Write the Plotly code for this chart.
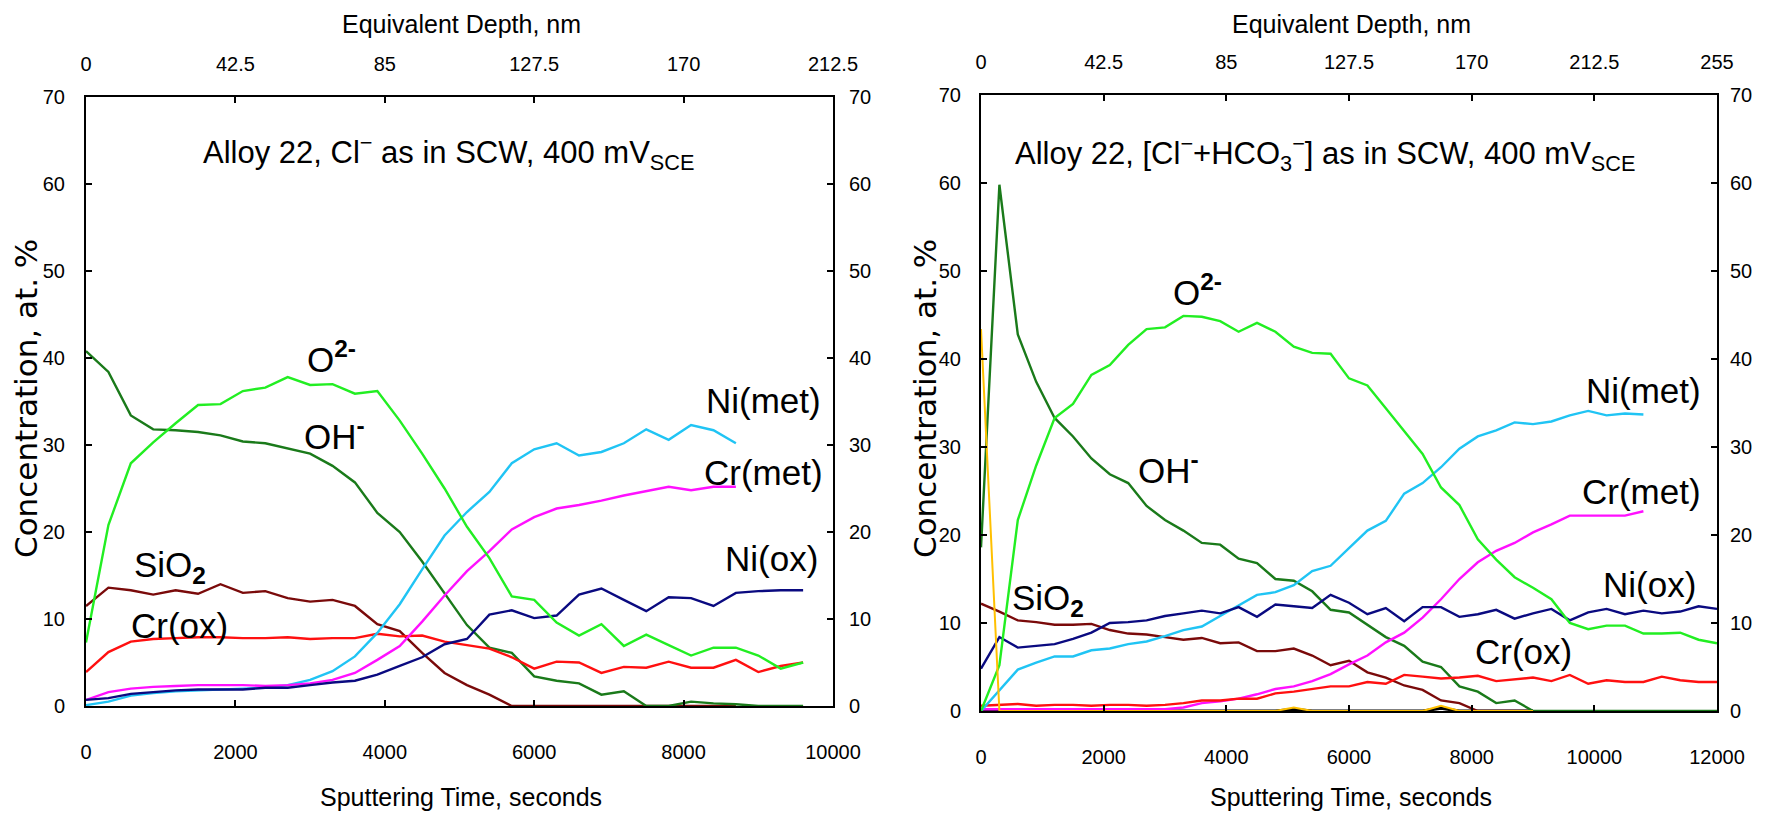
import plotly.graph_objects as go

# ---------------- data ----------------
t_left = list(range(0, 9601, 300))
t_right = list(range(0, 12001, 300))

L_O2 = [7.3, 20.8, 27.9, 30.3, 32.5, 34.6, 34.7, 36.2, 36.6, 37.8, 36.9, 37.0, 35.9, 36.2, 32.8, 29.0,
        25.0, 20.6, 17.0, 12.6, 12.2, 9.6, 8.1, 9.4, 6.9, 8.2, 7.0, 5.8, 6.7, 6.7, 5.8, 4.3, 5.0]
L_OH = [40.8, 38.4, 33.4, 31.8, 31.7, 31.5, 31.1, 30.4, 30.2, 29.6, 29.0, 27.6, 25.7, 22.2, 20.0, 16.6,
        13.0, 9.3, 6.7, 6.1, 3.4, 2.9, 2.6, 1.3, 1.7, 0.0, 0.0, 0.5, 0.3, 0.2, 0.0, 0.0, 0.0]
L_SiO2 = [11.5, 13.6, 13.3, 12.8, 13.3, 12.9, 14.0, 13.0, 13.2, 12.4, 12.0, 12.2, 11.5, 9.4, 8.6, 6.1,
          3.8, 2.4, 1.3, 0.0, 0.0, 0.0, 0.0, 0.0, 0.0, 0.0, 0.0, 0.0, 0.0, 0.0, None, None, None]
L_Crox = [3.9, 6.2, 7.4, 7.7, 7.8, 7.9, 7.9, 7.8, 7.8, 7.9, 7.7, 7.8, 7.8, 8.3, 8.0, 8.1,
          7.4, 7.0, 6.6, 5.6, 4.3, 5.1, 5.0, 3.8, 4.5, 4.4, 5.1, 4.4, 4.4, 5.3, 3.9, 4.6, 5.0]
L_Nimet = [0.1, 0.5, 1.2, 1.5, 1.7, 1.8, 1.9, 2.0, 2.1, 2.4, 3.0, 4.0, 5.7, 8.4, 11.7, 15.7,
           19.6, 22.3, 24.6, 27.9, 29.5, 30.2, 28.8, 29.2, 30.2, 31.8, 30.6, 32.3, 31.7, 30.2, None, None, None]
L_Crmet = [0.7, 1.6, 2.0, 2.2, 2.3, 2.4, 2.4, 2.4, 2.3, 2.4, 2.6, 3.0, 3.8, 5.3, 6.9, 9.7,
           12.7, 15.5, 17.8, 20.3, 21.7, 22.7, 23.1, 23.6, 24.2, 24.7, 25.2, 24.8, 25.2, 25.2, None, None, None]
L_Niox = [0.7, 0.9, 1.4, 1.6, 1.8, 1.9, 1.9, 1.9, 2.1, 2.1, 2.4, 2.7, 2.9, 3.6, 4.6, 5.6,
          7.1, 7.7, 10.5, 11.0, 10.1, 10.4, 12.8, 13.5, 12.2, 10.9, 12.5, 12.4, 11.5, 13.0, 13.2, 13.3, 13.3]

R_O2 = [0.0, 5.2, 21.7, 27.9, 33.3, 34.9, 38.2, 39.3, 41.6, 43.4, 43.6, 44.9, 44.8, 44.3, 43.1, 44.1,
        43.1, 41.4, 40.7, 40.6, 37.8, 37.0, 34.4, 31.8, 29.2, 25.4, 23.4, 19.5, 17.2, 15.2, 14.0, 12.7,
        10.0, 9.3, 9.7, 9.7, 8.8, 8.8, 8.9, 8.1, 7.7]
R_OH = [18.6, 59.8, 42.8, 37.4, 33.3, 31.2, 28.7, 26.9, 25.9, 23.3, 21.7, 20.5, 19.1, 18.9, 17.3, 16.8,
        15.0, 14.8, 13.6, 11.5, 11.2, 9.8, 8.4, 7.4, 5.6, 5.0, 2.8, 2.2, 0.9, 1.2, 0.0, 0.0,
        0.0, 0.0, 0.0, 0.0, 0.0, 0.0, 0.0, 0.0, 0.0]
R_SiO2 = [12.2, 11.3, 10.3, 10.1, 9.8, 9.8, 9.9, 9.2, 8.8, 8.7, 8.4, 8.1, 8.3, 7.7, 7.8, 6.8,
          6.8, 7.1, 6.3, 5.2, 5.7, 4.4, 3.8, 2.9, 2.4, 1.2, 0.9, 0.0, 0.0, 0.0, 0.0, None,
          None, None, None, None, None, None, None, None, None]
R_Niox = [4.8, 8.4, 7.2, 7.4, 7.6, 8.2, 8.9, 10.0, 10.1, 10.3, 10.8, 11.1, 11.4, 11.1, 11.8, 10.7,
          12.1, 11.9, 11.7, 13.2, 12.3, 11.0, 11.7, 10.2, 11.8, 11.8, 10.7, 11.0, 11.5, 10.5, 11.1, 11.6,
          10.3, 11.2, 11.6, 11.0, 11.4, 11.1, 11.3, 11.9, 11.6]
R_Nimet = [0.0, 2.4, 4.7, 5.5, 6.2, 6.2, 6.9, 7.1, 7.6, 7.9, 8.5, 9.2, 9.6, 10.8, 12.0, 13.2,
           13.5, 14.3, 15.9, 16.5, 18.5, 20.5, 21.6, 24.7, 25.9, 27.7, 29.8, 31.2, 31.9, 32.8, 32.6, 32.9,
           33.6, 34.1, 33.6, 33.8, 33.7, None, None, None, None]
R_Crmet = [0.2, 0.2, 0.2, 0.2, 0.2, 0.2, 0.2, 0.2, 0.2, 0.2, 0.2, 0.4, 0.9, 1.1, 1.4, 1.9,
           2.5, 2.8, 3.4, 4.2, 5.3, 6.3, 7.8, 8.9, 10.6, 12.7, 15.0, 16.9, 18.2, 19.1, 20.3, 21.2,
           22.2, 22.2, 22.2, 22.2, 22.7, None, None, None, None]
R_Crox = [0.6, 0.7, 0.8, 0.6, 0.7, 0.7, 0.6, 0.7, 0.7, 0.6, 0.7, 0.9, 1.2, 1.2, 1.4, 1.4,
          2.0, 2.2, 2.5, 2.8, 2.8, 3.3, 3.1, 4.1, 3.9, 3.7, 3.8, 4.0, 3.4, 3.6, 3.8, 3.4,
          4.1, 3.1, 3.5, 3.3, 3.3, 3.9, 3.5, 3.3, 3.3]
R_Yellow = [43.4, 0.0, 0.0, 0.0, 0.0, 0.0, 0.0, 0.0, 0.0, 0.0, 0.0, 0.0, 0.0, 0.0, 0.0, 0.0,
            0.0, 0.4, 0.0, 0.0, 0.0, 0.0, 0.0, 0.0, 0.0, 0.6, 0.0, 0.0, 0.0, 0.0, 0.0, None,
            None, None, None, None, None, None, None, None, None]
R_Black = [0.0, 0.0, 0.0, 0.0, 0.0, 0.0, 0.0, 0.0, 0.0, 0.0, 0.0, 0.0, 0.0, 0.0, 0.0, 0.0,
           0.0, 0.2, 0.0, 0.0, 0.0, 0.0, 0.0, 0.0, 0.0, 0.3, 0.0, 0.0, 0.0, 0.0, 0.0, None,
           None, None, None, None, None, None, None, None, None]

depth_left = [0, 42.5, 85, 127.5, 170, 212.5]
depth_left_txt = ["0", "42.5", "85", "127.5", "170", "212.5"]
depth_right = [0, 42.5, 85, 127.5, 170, 212.5, 255]
depth_right_txt = ["0", "42.5", "85", "127.5", "170", "212.5", "255"]
time_ticks_left = [0, 2000, 4000, 6000, 8000, 10000]
time_ticks_right = [0, 2000, 4000, 6000, 8000, 10000, 12000]
conc_ticks = [0, 10, 20, 30, 40, 50, 60, 70]

C_O2 = "#22ee22"
C_OH = "#1a7a1a"
C_SIO2 = "#7a0a0a"
C_CROX = "#ff1010"
C_NIMET = "#20c4f4"
C_CRMET = "#ff10ff"
C_NIOX = "#0a0a80"
C_YEL = "#ffc000"

FONT = "Liberation Sans, Arial, sans-serif"
W, H = 1765, 815
OFF = 8  # the page places the figure 8 px in from the top-left corner

fig = go.Figure()

def add(x, y, color, xa, ya, width=2.4):
    fig.add_trace(go.Scatter(x=x, y=y, mode="lines", line=dict(color=color, width=width),
                             xaxis=xa, yaxis=ya, showlegend=False, hoverinfo="skip",
                             connectgaps=False))

def bind(xa, ya, xs):
    # invisible helper so that the secondary (top / right) axes get drawn
    fig.add_trace(go.Scatter(x=xs, y=[None] * len(xs), mode="markers", marker=dict(opacity=0),
                             xaxis=xa, yaxis=ya, showlegend=False, hoverinfo="skip"))

# left panel
add(t_left, L_SiO2, C_SIO2, "x", "y")
add(t_left, L_OH, C_OH, "x", "y")
add(t_left, L_Crox, C_CROX, "x", "y")
add(t_left, L_Nimet, C_NIMET, "x", "y")
add(t_left, L_Crmet, C_CRMET, "x", "y")
add(t_left, L_Niox, C_NIOX, "x", "y")
add(t_left, L_O2, C_O2, "x", "y")

# right panel
add(t_right, R_Black, "#000000", "x2", "y2", 3)
add(t_right, R_SiO2, C_SIO2, "x2", "y2")
add(t_right, R_OH, C_OH, "x2", "y2")
add(t_right, R_Crmet, C_CRMET, "x2", "y2")
add(t_right, R_Crox, C_CROX, "x2", "y2")
add(t_right, R_Nimet, C_NIMET, "x2", "y2")
add(t_right, R_Niox, C_NIOX, "x2", "y2")
add(t_right, R_O2, C_O2, "x2", "y2")
add(t_right, R_Yellow, C_YEL, "x2", "y2", 2)

bind("x3", "y", depth_left)
bind("x", "y3", time_ticks_left)
bind("x4", "y2", depth_right)
bind("x2", "y4", time_ticks_right)

tickfont = dict(family=FONT, size=20, color="black")

def xdom(a, b):
    return [(a - OFF) / W, (b - OFF) / W]

def ydom(bottom, top):
    return [1 - (bottom - OFF) / H, 1 - (top - OFF) / H]

def px(xp, yp):
    return (xp - OFF) / W, 1 - (yp - OFF) / H

base = dict(showline=True, linecolor="black", linewidth=2, ticks="inside", ticklen=6,
            tickwidth=1.5, tickcolor="black", showgrid=False, zeroline=False,
            tickfont=tickfont, fixedrange=True, automargin=False)

fig.update_layout(
    template="none",
    width=W, height=H, margin=dict(l=0, r=0, t=0, b=0, pad=0, autoexpand=False),
    paper_bgcolor="white", plot_bgcolor="white",
    xaxis=dict(base, domain=xdom(86, 833), range=[0, 10000], tickvals=time_ticks_left,
               ticktext=[str(v) for v in time_ticks_left],
               anchor="y", side="bottom", ticklabelstandoff=27),
    yaxis=dict(base, domain=ydom(706, 97), range=[0, 70], tickvals=conc_ticks,
               anchor="x", side="left", ticklabelstandoff=15),
    xaxis3=dict(base, overlaying="x", range=[0, 212.5], tickvals=depth_left,
                ticktext=depth_left_txt, anchor="y", side="top", ticklabelstandoff=16),
    yaxis3=dict(base, overlaying="y", range=[0, 70], tickvals=conc_ticks,
                anchor="x", side="right", ticklabelstandoff=10),
    xaxis2=dict(base, domain=xdom(981, 1717), range=[0, 12000], tickvals=time_ticks_right,
                ticktext=[str(v) for v in time_ticks_right],
                anchor="y2", side="bottom", ticklabelstandoff=27),
    yaxis2=dict(base, domain=ydom(711, 95), range=[0, 70], tickvals=conc_ticks,
                anchor="x2", side="left", ticklabelstandoff=14),
    xaxis4=dict(base, overlaying="x2", range=[0, 255], tickvals=depth_right,
                ticktext=depth_right_txt, anchor="y2", side="top", ticklabelstandoff=16),
    yaxis4=dict(base, overlaying="y2", range=[0, 70], tickvals=conc_ticks,
                anchor="x2", side="right", ticklabelstandoff=7),
)

ann = []

def lab(text, x, y, xref, yref, size=35, family=FONT, **kw):
    ann.append(dict(text=text, x=x, y=y, xref=xref, yref=yref, showarrow=False,
                    xanchor="center", yanchor="middle",
                    font=dict(family=family, size=size, color="black"), **kw))

for cx in (461, 1351):
    x0, y0 = px(cx, 24)
    lab("Equivalent Depth, nm", x0, y0, "paper", "paper", size=25)
    x0, y0 = px(cx, 797)
    lab("Sputtering Time, seconds", x0, y0, "paper", "paper", size=25)
for cx in (26, 925):
    x0, y0 = px(cx, 399)
    lab("Concentration, at. %", x0, y0, "paper", "paper", size=31,
        family="DejaVu Sans, Verdana, sans-serif", textangle=-90)

# left panel labels
lab("Alloy 22, Cl<sup>\u2212</sup> as in SCW, 400 mV<sub>SCE</sub>", 4859, 63.6, "x", "y", size=31)
lab("O<sup><b>2-</b></sup>", 3280, 40.1, "x", "y")
lab("OH<sup><b>-</b></sup>", 3320, 31.3, "x", "y")
lab("SiO<sub><b>2</b></sub>", 1124, 16.0, "x", "y")
lab("Cr(ox)", 1258, 9.3, "x", "y")
lab("Ni(met)", 9076, 35.1, "x", "y")
lab("Cr(met)", 9063, 26.8, "x", "y")
lab("Ni(ox)", 9170, 16.9, "x", "y")

# right panel labels
lab("Alloy 22, [Cl<sup>\u2212</sup>+HCO<sub>3</sub><sup>\u2212</sup>] as in SCW, 400 mV<sub>SCE</sub>",
    5609, 63.4, "x2", "y2", size=31)
lab("O<sup><b>2-</b></sup>", 3522, 47.8, "x2", "y2")
lab("OH<sup><b>-</b></sup>", 3065, 27.6, "x2", "y2")
lab("SiO<sub><b>2</b></sub>", 1092, 12.6, "x2", "y2")
lab("Cr(ox)", 8853, 6.8, "x2", "y2")
lab("Ni(met)", 10809, 36.4, "x2", "y2")
lab("Cr(met)", 10777, 25.0, "x2", "y2")
lab("Ni(ox)", 10907, 14.4, "x2", "y2")

fig.update_layout(annotations=ann)
fig.write_html("out.html")
